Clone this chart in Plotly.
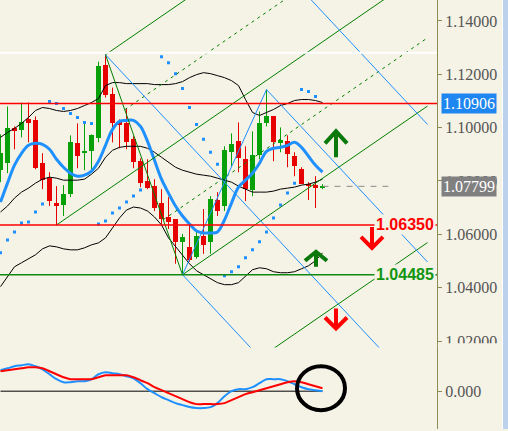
import plotly.graph_objects as go

# ---------------- data ----------------
bars = list(range(-1, 46))

opens = [1.08403, 1.08664, 1.09970, 1.09896, 1.10306, 1.10269, 1.08664, 1.08104, 1.07172, 1.07097,
         1.07507, 1.09410, 1.09037, 1.09112, 1.09597, 1.12358, 1.11276, 1.10194, 1.10157, 1.09560,
         1.08739, 1.07993, 1.07806, 1.07172, 1.06649, 1.06575, 1.05716, 1.05530, 1.05157, 1.05940,
         1.05716, 1.07284, 1.07060, 1.09075, 1.09485, 1.08813, 1.07657, 1.08963, 1.10157, 1.10418,
         1.09448, 1.09485, 1.08925, 1.08440, 1.07881, 1.07843, 1.07769]
highs = [1.09746, 1.10791, 1.10045, 1.10940, 1.10940, 1.10418, 1.09037, 1.08328, 1.07806, 1.07843,
         1.09709, 1.10157, 1.10157, 1.09746, 1.12470, 1.12731, 1.11500, 1.10306, 1.10716, 1.09672,
         1.08851, 1.08813, 1.08067, 1.07694, 1.07396, 1.06575, 1.06015, 1.06313, 1.06127, 1.06948,
         1.07433, 1.07582, 1.09299, 1.09784, 1.10194, 1.09299, 1.09858, 1.10604, 1.11425, 1.10418,
         1.10007, 1.09709, 1.09075, 1.08515, 1.07955, 1.08179, 1.07881]
lows = [1.07955, 1.08291, 1.09187, 1.09634, 1.09448, 1.08440, 1.07694, 1.07060, 1.06350, 1.06687,
        1.07396, 1.08478, 1.08403, 1.08366, 1.09448, 1.11127, 1.09448, 1.09224, 1.09187, 1.08478,
        1.07769, 1.07694, 1.06873, 1.06388, 1.06201, 1.04896, 1.04485, 1.04970, 1.05082, 1.05269,
        1.05269, 1.06687, 1.06873, 1.08552, 1.08328, 1.07246, 1.07433, 1.08813, 1.10045, 1.08739,
        1.09075, 1.08515, 1.08179, 1.07881, 1.07284, 1.06985, 1.07694]
closes = [1.09037, 1.09970, 1.09858, 1.10194, 1.10157, 1.08478, 1.08030, 1.07246, 1.07060, 1.07507,
          1.09448, 1.08925, 1.09112, 1.09709, 1.12321, 1.11239, 1.10157, 1.10082, 1.09448, 1.08701,
          1.07918, 1.07731, 1.06985, 1.06575, 1.06463, 1.05716, 1.05903, 1.05045, 1.05940, 1.05604,
          1.07321, 1.06873, 1.09149, 1.09373, 1.08851, 1.07694, 1.08963, 1.10157, 1.10418, 1.09448,
          1.09522, 1.09000, 1.08552, 1.07881, 1.07806, 1.07731, 1.07799]

bb_upper = [1.09634, 1.09821, 1.09970, 1.10157, 1.10381, 1.10642, 1.10754, 1.10716, 1.10642, 1.10605,
            1.10642, 1.10716, 1.10828, 1.10940, 1.11090, 1.11575, 1.11687, 1.11687, 1.11649, 1.11649,
            1.11649, 1.11649, 1.11612, 1.11612, 1.11612, 1.11649, 1.11724, 1.11873, 1.11985, 1.12060,
            1.12022, 1.11948, 1.11873, 1.11761, 1.11575, 1.11052, 1.10567, 1.10455, 1.10567, 1.10679,
            1.10828, 1.10903, 1.11015, 1.11052, 1.11052, 1.11015, 1.10940]
bb_mid = [1.06836, 1.07060, 1.07358, 1.07582, 1.07731, 1.07918, 1.08067, 1.08142, 1.08105, 1.08030,
          1.08030, 1.08030, 1.08067, 1.08254, 1.08478, 1.08888, 1.09149, 1.09261, 1.09299, 1.09299,
          1.09299, 1.09224, 1.09075, 1.08888, 1.08702, 1.08515, 1.08403, 1.08328, 1.08254, 1.08217,
          1.08179, 1.08105, 1.08030, 1.07955, 1.07806, 1.07694, 1.07582, 1.07582, 1.07582, 1.07619,
          1.07694, 1.07731, 1.07769, 1.07843, 1.07881, 1.07955, 1.08067]
bb_lower = [1.04037, 1.04411, 1.04784, 1.04933, 1.05082, 1.05232, 1.05455, 1.05567, 1.05530, 1.05455,
            1.05418, 1.05418, 1.05493, 1.05605, 1.05679, 1.05866, 1.06239, 1.06612, 1.06911, 1.07022,
            1.06985, 1.06873, 1.06649, 1.06351, 1.05866, 1.05530, 1.05194, 1.04896, 1.04634, 1.04485,
            1.04336, 1.04187, 1.04112, 1.04112, 1.04187, 1.04448, 1.04672, 1.04746, 1.04709, 1.04597,
            1.04560, 1.04560, 1.04597, 1.04709, 1.04821, 1.05008, 1.05306]
ma_fast = [1.07209, 1.07918, 1.08590, 1.09037, 1.09336, 1.09411, 1.09373, 1.09187, 1.08814, 1.08515,
           1.08291, 1.08179, 1.08217, 1.08366, 1.08739, 1.09336, 1.09933, 1.10231, 1.10269, 1.10269,
           1.10045, 1.09485, 1.08776, 1.08067, 1.07545, 1.07060, 1.06687, 1.06388, 1.06127, 1.06052,
           1.06052, 1.06090, 1.06537, 1.07172, 1.07769, 1.08030, 1.08291, 1.08664, 1.09112, 1.09224,
           1.09261, 1.09336, 1.09448, 1.09261, 1.08925, 1.08590, 1.08328]
sar = [1.05306, 1.05791, 1.06090, 1.06425, 1.06463, 1.06836, 1.07134, 1.10978, 1.10903, 1.10716,
       1.10530, 1.10381, 1.10194, 1.10157, 1.06388, 1.06500, 1.06799, 1.06985, 1.07209, 1.07433,
       1.07657, None, None, 1.12657, 1.12433, 1.12022, 1.11463, 1.10754, 1.10120, 1.09560,
       1.09075, 1.08627, 1.04448, 1.04597, 1.04784, 1.05120, 1.05418, 1.05717, 1.06090, 1.06612,
       1.07097, 1.07545, 1.07918, 1.11425, 1.11351, 1.11164, None]

macd_main = [0.0021, 0.0023, 0.0025, 0.0026, 0.0027, 0.0025, 0.0022, 0.0017, 0.0012, 0.0009,
             0.0009, 0.0010, 0.0010, 0.0012, 0.0017, 0.0019, 0.0018, 0.0017, 0.0015, 0.0013,
             0.0008, 0.0002, -0.0002, -0.0006, -0.0009, -0.0012, -0.0014, -0.0016, -0.0017, -0.0017,
             -0.0016, -0.0012, -0.0005, 0.0000, 0.0002, 0.0002, 0.0004, 0.0008, 0.0012, 0.0012,
             0.0012, 0.0010, 0.0007, 0.0004, 0.0002, 0.0001, 0.0000]
macd_signal = [0.0020, 0.0021, 0.0022, 0.0023, 0.0024, 0.0024, 0.0023, 0.0020, 0.0017, 0.0014,
               0.0012, 0.0012, 0.0012, 0.0012, 0.0014, 0.0016, 0.0016, 0.0016, 0.0016, 0.0014,
               0.0011, 0.0008, 0.0004, 0.0001, -0.0002, -0.0005, -0.0008, -0.0011, -0.0013, -0.0013,
               -0.0013, -0.0013, -0.0012, -0.0009, -0.0006, -0.0003, -0.0001, 0.0001, 0.0003, 0.0005,
               0.0007, 0.0009, 0.0010, 0.0009, 0.0007, 0.0005, 0.0003]

resistance_level = 1.10906
sell_level = 1.06350
support_level = 1.04485
white_level = 1.12806
last_price = closes[-1]

price_ticks = [1.02, 1.04, 1.06, 1.08, 1.10, 1.12, 1.14]
price_tick_labels = ["1.02000", "1.04000", "1.06000", "1.08000", "1.10000", "1.12000", "1.14000"]
macd_ticks = [0.0]
macd_tick_labels = ["0.000"]

# pitchfork pivot bars: (bar, 'high'/'low')
green_fork = [(7, "low"), (14, "high"), (25, "low")]
blue_fork = [(14, "high"), (25, "low"), (37, "high")]
ray_end_bar = 60

# ---------------- style ----------------
BG = "#F5F2E6"
AXIS = "#8C8C55"
TXT = "#555555"
UP = "#08A008"
DN = "#E60000"
BLUE = "#1E90FF"
FORKGREEN = "#008000"
SERIF = "Liberation Serif"
SANS = "Liberation Sans"

fig = go.Figure()


def pivot(spec):
    b, kind = spec
    i = bars.index(b)
    return (b, highs[i] if kind == "high" else lows[i])


# candles: wicks + bodies
for up in (True, False):
    xs, ys = [], []
    for b, o, h, l, c in zip(bars, opens, highs, lows, closes):
        if (c >= o) == up:
            xs += [b, b, None]
            ys += [l, h, None]
    fig.add_trace(go.Scatter(x=xs, y=ys, mode="lines", line=dict(color=UP if up else DN, width=1),
                             hoverinfo="skip", xaxis="x", yaxis="y"))
body_base = [min(o, c) for o, c in zip(opens, closes)]
body_h = [max(abs(c - o), 0.0004) for o, c in zip(opens, closes)]
body_col = [UP if c >= o else DN for o, c in zip(opens, closes)]
fig.add_trace(go.Bar(x=bars, y=body_h, base=body_base, width=0.72, marker=dict(color=body_col, line=dict(width=0)),
                     hoverinfo="skip", xaxis="x", yaxis="y"))

# bollinger
for s in (bb_upper, bb_mid, bb_lower):
    fig.add_trace(go.Scatter(x=bars, y=s, mode="lines", line=dict(color="black", width=1),
                             hoverinfo="skip", xaxis="x", yaxis="y"))
# fast MA
fig.add_trace(go.Scatter(x=bars, y=ma_fast, mode="lines", line=dict(color=BLUE, width=3, shape="spline"),
                         hoverinfo="skip", xaxis="x", yaxis="y"))
# SAR
fig.add_trace(go.Scatter(x=bars, y=sar, mode="markers", marker=dict(color=BLUE, size=3, symbol="square"),
                         hoverinfo="skip", xaxis="x", yaxis="y"))


def fork(spec, color, dashed_halves, outer):
    p0, p1, p2 = [pivot(s) for s in spec]
    m = ((p1[0] + p2[0]) / 2, (p1[1] + p2[1]) / 2)
    slope = (m[1] - p0[1]) / (m[0] - p0[0])
    out = []

    def ray(p, dash="solid"):
        out.append(([p[0], ray_end_bar], [p[1], p[1] + slope * (ray_end_bar - p[0])], dash))

    out.append(([p1[0], p2[0]], [p1[1], p2[1]], "solid"))
    ray(p0)
    ray(p1)
    ray(p2)
    if outer:
        ray((p2[0] + (p2[0] - p1[0]) / 2, p2[1] + (p2[1] - p1[1]) / 2))
    if dashed_halves:
        ray(((p1[0] + m[0]) / 2, (p1[1] + m[1]) / 2), "3px,4px")
        ray(((m[0] + p2[0]) / 2, (m[1] + p2[1]) / 2), "3px,4px")
    for xs, ys, dash in out:
        fig.add_trace(go.Scatter(x=xs, y=ys, mode="lines", line=dict(color=color, width=1, dash=dash),
                                 hoverinfo="skip", xaxis="x", yaxis="y"))


fork(green_fork, FORKGREEN, True, True)
fork(blue_fork, BLUE, False, True)

# MACD
fig.add_trace(go.Scatter(x=[bars[0], bars[-1]], y=[0, 0], mode="lines", line=dict(color="black", width=1),
                         hoverinfo="skip", xaxis="x2", yaxis="y2"))
fig.add_trace(go.Scatter(x=bars, y=macd_main, mode="lines", line=dict(color=BLUE, width=2, shape="spline"),
                         hoverinfo="skip", xaxis="x2", yaxis="y2"))
fig.add_trace(go.Scatter(x=bars, y=macd_signal, mode="lines", line=dict(color="#FF0000", width=2, shape="spline"),
                         hoverinfo="skip", xaxis="x2", yaxis="y2"))

# ---------------- shapes ----------------
shapes = []
for lvl, col, w in ((white_level, "white", 2), (resistance_level, "#FF0000", 1.5),
                    (sell_level, "#FF0000", 1.5), (support_level, "#118A11", 1.5)):
    shapes.append(dict(type="line", xref="paper", x0=0, x1=1, yref="y", y0=lvl, y1=lvl,
                       line=dict(color=col, width=w), layer="above"))
shapes.append(dict(type="line", xref="x", x0=bars[-1], x1=bars[-1] + 9.4, yref="y", y0=last_price, y1=last_price,
                   line=dict(color="#8A8A8A", width=1, dash="6px,6px"), layer="above"))


def arrow(xa, ya, up, color, w, h, head):
    s = 1 if up else -1
    t = s * h / 2
    path = (f"M0,{-t} L0,{t} M{-w / 2},{t - s * head} L0,{t} L{w / 2},{t - s * head}")
    return dict(type="path", xref="x", yref="y", xsizemode="pixel", ysizemode="pixel",
                xanchor=xa, yanchor=ya, path=path, line=dict(color=color, width=4), layer="above")


shapes.append(arrow(46.93, 1.09373, True, "#0A780A", 22, 26, 12))
shapes.append(arrow(44.07, 1.05063, True, "#0A780A", 22, 15, 9))
shapes.append(arrow(52.07, 1.05884, False, "#FF0000", 22, 21, 11))
shapes.append(arrow(46.93, 1.02843, False, "#FF0000", 22, 20, 11))

# circle on MACD end
shapes.append(dict(type="circle", xref="x2", yref="y2", xsizemode="pixel", ysizemode="pixel",
                   xanchor=bars[-1], yanchor=macd_signal[-1], x0=-25.5, x1=22.5, y0=-22, y1=22,
                   line=dict(color="black", width=4), layer="above"))

# clip of lowest price label and scroll strip
shapes.append(dict(type="rect", xref="paper", x0=1.002, x1=1.148, yref="paper", y0=0.19, y1=0.2,
                   fillcolor=BG, line=dict(width=0), layer="above"))
shapes.append(dict(type="rect", xref="paper", x0=502 / 437, x1=503 / 437, yref="paper", y0=0, y1=1,
                   fillcolor="white", line=dict(width=0), layer="above"))
shapes.append(dict(type="rect", xref="paper", x0=503 / 437, x1=509 / 437, yref="paper", y0=0, y1=1,
                   fillcolor="#BCD2EC", line=dict(width=0), layer="above"))

# ---------------- annotations ----------------
ann = [
    dict(text=f"{sell_level:.5f}", xref="paper", x=1, xanchor="right", xshift=-1, yref="y", y=sell_level,
         showarrow=False, bgcolor=BG, borderpad=1, font=dict(family=SANS, size=16, color="#FF0000", weight="bold")),
    dict(text=f"{support_level:.5f}", xref="paper", x=1, xanchor="right", xshift=-1, yref="y", y=support_level,
         showarrow=False, bgcolor=BG, borderpad=1, font=dict(family=SANS, size=16, color="#129612", weight="bold")),
    dict(text=f"{resistance_level:.5f}", xref="paper", x=1, xanchor="left", xshift=4, yref="y",
         y=resistance_level, showarrow=False, bgcolor="#1E86F0", borderpad=1,
         font=dict(family=SERIF, size=16, color="white")),
    dict(text=f"{last_price:.5f}", xref="paper", x=1, xanchor="left", xshift=4, yref="y",
         y=last_price, showarrow=False, bgcolor="#808080", borderpad=1,
         font=dict(family=SERIF, size=16, color="white")),
]

xmin = -1.0714
xmax = xmin + 437 / 7
ytop = 1.14 + 21 / 2680
ybot = ytop - (431 * 0.81) / 2680

axis_common = dict(side="right", showline=True, linecolor=AXIS, linewidth=1, ticks="outside", ticklen=4,
                   tickcolor=AXIS, showgrid=False, zeroline=False,
                   tickfont=dict(family=SERIF, size=16, color=TXT))

fig.update_layout(
    width=508, height=431, margin=dict(l=0, r=71, t=0, b=0),
    paper_bgcolor=BG, plot_bgcolor=BG, showlegend=False,
    xaxis=dict(domain=[0, 1], range=[xmin, xmax], visible=False, anchor="y",
               rangeslider=dict(visible=False), fixedrange=True),
    xaxis2=dict(domain=[0, 1], range=[xmin, xmax], visible=False, anchor="y2", fixedrange=True),
    yaxis=dict(domain=[0.19, 1], range=[ybot, ytop], anchor="x", tickvals=price_ticks,
               ticktext=price_tick_labels, **axis_common),
    yaxis2=dict(domain=[0, 0.19], range=[-0.0038, 0.00439], anchor="x2", tickvals=macd_ticks,
                ticktext=macd_tick_labels, **axis_common),
    shapes=shapes, annotations=ann, bargap=0,
)

fig.write_html("out.html", config={"displayModeBar": False},
               post_script="document.body.style.margin='0';document.body.style.overflow='hidden';")
